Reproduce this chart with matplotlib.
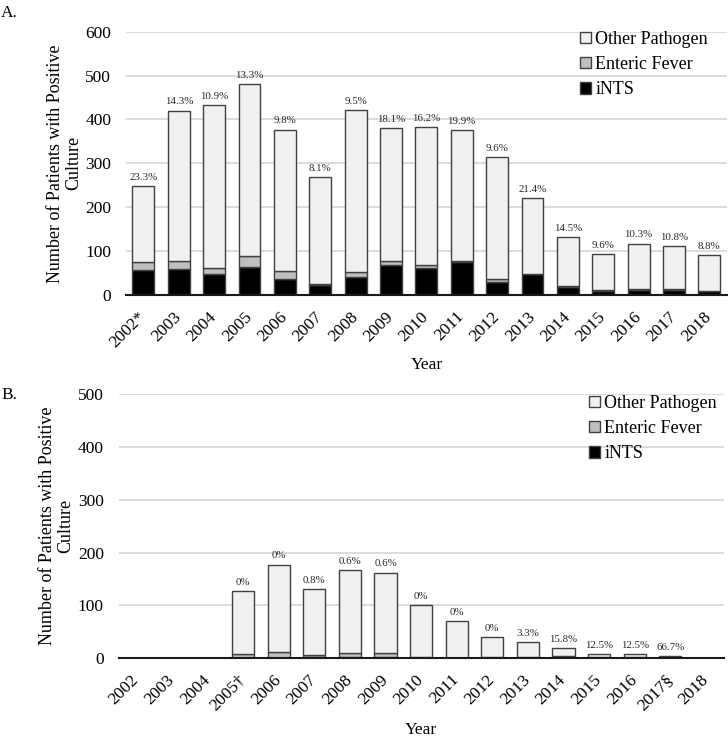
import matplotlib
matplotlib.use("Agg")
import matplotlib.pyplot as plt
import numpy as np

plt.rcParams['font.family'] = ['Liberation Serif', 'DejaVu Serif']

# Panel A: all patients
years_a = ["2002*", "2003", "2004", "2005", "2006", "2007", "2008", "2009", "2010",
           "2011", "2012", "2013", "2014", "2015", "2016", "2017", "2018"]
totals_a = [249, 420, 432, 481, 377, 269, 421, 381, 383, 376, 314, 220, 131, 94, 117, 111, 91]
ints_a = [58, 60, 47, 64, 37, 22, 40, 69, 62, 75, 30, 47, 19, 9, 12, 12, 8]
enteric_a = [17, 17, 15, 25, 18, 4, 12, 8, 7, 2, 6, 1, 1, 3, 1, 1, 1]
pct_a = ["23.3%", "14.3%", "10.9%", "13.3%", "9.8%", "8.1%", "9.5%", "18.1%", "16.2%",
         "19.9%", "9.6%", "21.4%", "14.5%", "9.6%", "10.3%", "10.8%", "8.8%"]

# Panel B
years_b = ["2002", "2003", "2004", "2005\u2020", "2006", "2007", "2008", "2009", "2010",
           "2011", "2012", "2013", "2014", "2015", "2016", "2017\u00a7", "2018"]
totals_b = [0, 0, 0, 127, 177, 130, 167, 162, 101, 70, 40, 30, 19, 8, 8, 3, 0]
ints_b = [0, 0, 0, 0, 0, 1, 1, 1, 0, 0, 0, 1, 3, 1, 1, 2, 0]
enteric_b = [0, 0, 0, 7, 12, 5, 8, 8, 2, 0, 1, 0, 0, 0, 1, 0, 0]
pct_b = ["", "", "", "0%", "0%", "0.8%", "0.6%", "0.6%", "0%", "0%", "0%", "3.3%",
         "15.8%", "12.5%", "12.5%", "66.7%", ""]

C_OTHER = "#f0f0f0"
C_ENTERIC = "#bfbfbf"
C_INTS = "#000000"
EDGE = "#404040"


def panel(ax, years, totals, ints, enteric, pcts, ymax):
    x = np.arange(len(years))
    totals = np.array(totals)
    ints = np.array(ints)
    enteric = np.array(enteric)
    other = totals - ints - enteric
    w = 0.62
    kw = dict(width=w, edgecolor=EDGE, linewidth=1.0, zorder=3)
    b1 = ax.bar(x, ints, color=C_INTS, **kw)
    b2 = ax.bar(x, enteric, bottom=ints, color=C_ENTERIC, **kw)
    b3 = ax.bar(x, other, bottom=ints + enteric, color=C_OTHER, **kw)
    for xi, t, p in zip(x, totals, pcts):
        if p:
            ax.annotate(p, (xi, t), xytext=(0, 3), textcoords="offset points",
                        ha="center", va="bottom", fontsize=7.8, color="#262626")
    ax.set_xlim(-0.5, len(years) - 0.5)
    ax.set_ylim(0, ymax)
    ax.set_yticks(np.arange(0, ymax + 1, 100))
    ax.yaxis.grid(True, color="#d9d9d9", linewidth=1.3, zorder=0)
    ax.set_axisbelow(True)
    for s in ["top", "right", "left"]:
        ax.spines[s].set_visible(False)
    ax.spines["bottom"].set_linewidth(1.5)
    ax.spines["bottom"].set_color("#1a1a1a")
    ax.spines["bottom"].set_zorder(4)
    ax.tick_params(axis="both", length=0, labelsize=12.5)
    ax.tick_params(axis="y", pad=10.5)
    ax.set_xticks(x)
    ax.set_xticklabels(years, rotation=45, ha="right", va="center",
                       rotation_mode="anchor")
    ax.tick_params(axis="x", pad=14)
    ax.set_ylabel("Number of Patients with Positive\nCulture", fontsize=13,
                  linespacing=1.1)
    ax.set_xlabel("Year", fontsize=12.5)
    return b1, b2, b3


fig = plt.figure(figsize=(7.28, 7.38), dpi=100)
ax_a = fig.add_axes([0.1727, 0.6003, 0.826, 0.3568])
ax_b = fig.add_axes([0.1628, 0.1084, 0.8313, 0.3573])

h = panel(ax_a, years_a, totals_a, ints_a, enteric_a, pct_a, 600)
ax_a.yaxis.set_label_coords(-0.073, 0.5)
ax_a.xaxis.set_label_coords(0.5, -0.234)
ax_a.xaxis.label.set_va("top")
panel(ax_b, years_b, totals_b, ints_b, enteric_b, pct_b, 500)
ax_b.yaxis.set_label_coords(-0.073, 0.5)
ax_b.xaxis.set_label_coords(0.5, -0.2416)
ax_b.xaxis.label.set_va("top")

leg_kw = dict(fontsize=13, frameon=False, handlelength=0.6, handleheight=0.6,
              handletextpad=0.25, labelspacing=0.45, borderpad=0, borderaxespad=0,
              loc="upper left", bbox_transform=fig.transFigure)
ax_a.legend([h[2], h[1], h[0]], ["Other Pathogen", "Enteric Fever", "iNTS"],
            bbox_to_anchor=(580 / 728, 1 - 31 / 738), **leg_kw)
ax_b.legend([h[2], h[1], h[0]], ["Other Pathogen", "Enteric Fever", "iNTS"],
            bbox_to_anchor=(589 / 728, 1 - 395 / 738), **leg_kw)

fig.text(1 / 728, 1 - 5 / 738, "A.", fontsize=12.5, ha="left", va="top")
fig.text(1 / 728, 1 - 387 / 738, "B.", fontsize=12.5, ha="left", va="top")

fig.savefig("out.png", dpi=100)
